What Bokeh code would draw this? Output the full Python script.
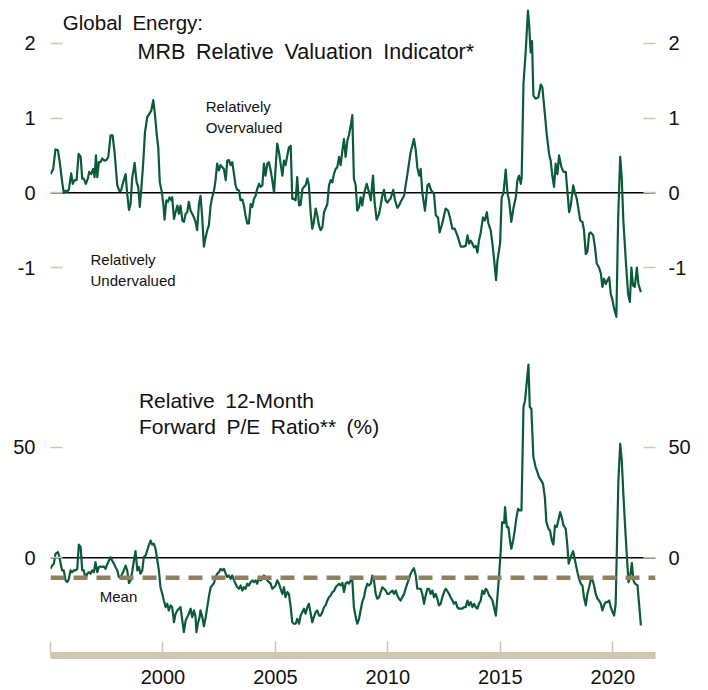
from bokeh.plotting import figure
from bokeh.models import Span, Label, LinearAxis, FixedTicker, Range1d
from bokeh.layouts import column
from bokeh.embed import file_html
from bokeh.resources import INLINE

# ---------------- data ----------------
years_mrb = [
    1995.00, 1995.12, 1995.22, 1995.33, 1995.42, 1995.52, 1995.59, 1995.67, 1995.74, 1995.82,
    1995.92, 1995.99, 1996.07, 1996.16, 1996.25, 1996.34, 1996.41, 1996.48, 1996.57, 1996.66,
    1996.72, 1996.81, 1996.90, 1996.96, 1997.02, 1997.08, 1997.15, 1997.22, 1997.30, 1997.40,
    1997.49, 1997.57, 1997.67, 1997.76, 1997.85, 1997.97, 1998.07, 1998.14, 1998.23, 1998.34,
    1998.41, 1998.49, 1998.56, 1998.63, 1998.74, 1998.83, 1998.90, 1998.97, 1999.05, 1999.12,
    1999.20, 1999.30, 1999.40, 1999.48, 1999.57, 1999.64, 1999.72, 1999.79, 1999.86, 1999.95,
    2000.03, 2000.07, 2000.15, 2000.22, 2000.29, 2000.37, 2000.41, 2000.49, 2000.56, 2000.64,
    2000.71, 2000.78, 2000.86, 2000.93, 2001.01, 2001.08, 2001.15, 2001.23, 2001.30, 2001.38,
    2001.45, 2001.52, 2001.60, 2001.67, 2001.75, 2001.82, 2001.90, 2001.97, 2002.04, 2002.12,
    2002.19, 2002.27, 2002.34, 2002.41, 2002.49, 2002.56, 2002.64, 2002.71, 2002.79, 2002.86,
    2002.93, 2003.01, 2003.08, 2003.16, 2003.23, 2003.30, 2003.38, 2003.45, 2003.53, 2003.60,
    2003.67, 2003.75, 2003.82, 2003.90, 2003.97, 2004.05, 2004.12, 2004.19, 2004.27, 2004.34,
    2004.42, 2004.49, 2004.56, 2004.64, 2004.71, 2004.79, 2004.86, 2004.94, 2005.01, 2005.08,
    2005.16, 2005.23, 2005.31, 2005.38, 2005.45, 2005.53, 2005.60, 2005.68, 2005.75, 2005.82,
    2005.90, 2005.97, 2006.05, 2006.12, 2006.20, 2006.27, 2006.34, 2006.42, 2006.49, 2006.57,
    2006.64, 2006.71, 2006.79, 2006.86, 2006.94, 2007.01, 2007.09, 2007.16, 2007.23, 2007.31,
    2007.38, 2007.46, 2007.53, 2007.60, 2007.68, 2007.75, 2007.83, 2007.90, 2007.98, 2008.05,
    2008.12, 2008.20, 2008.27, 2008.35, 2008.42, 2008.49, 2008.57, 2008.64, 2008.72, 2008.79,
    2008.86, 2008.94, 2009.06, 2009.16, 2009.24, 2009.34, 2009.41, 2009.50, 2009.61, 2009.68,
    2009.75, 2009.83, 2009.90, 2009.98, 2010.05, 2010.12, 2010.24, 2010.32, 2010.42, 2010.50,
    2010.57, 2010.72, 2010.87, 2011.01, 2011.16, 2011.24, 2011.31, 2011.39, 2011.46, 2011.53,
    2011.65, 2011.76, 2011.83, 2011.93, 2012.05, 2012.13, 2012.23, 2012.30, 2012.42, 2012.50,
    2012.57, 2012.68, 2012.76, 2012.87, 2012.97, 2013.09, 2013.16, 2013.24, 2013.36, 2013.46,
    2013.54, 2013.61, 2013.68, 2013.76, 2013.83, 2013.91, 2013.98, 2014.05, 2014.13, 2014.23,
    2014.31, 2014.40, 2014.47, 2014.57, 2014.65, 2014.72, 2014.81, 2014.87, 2014.99, 2015.06,
    2015.14, 2015.24, 2015.32, 2015.39, 2015.49, 2015.58, 2015.69, 2015.76, 2015.83, 2015.91,
    2015.95, 2016.03, 2016.13, 2016.23, 2016.29, 2016.35, 2016.41, 2016.47, 2016.57, 2016.69,
    2016.80, 2016.87, 2016.98, 2017.06, 2017.17, 2017.24, 2017.32, 2017.39, 2017.46, 2017.54,
    2017.61, 2017.72, 2017.81, 2017.91, 2017.98, 2018.06, 2018.13, 2018.24, 2018.31, 2018.40,
    2018.47, 2018.55, 2018.65, 2018.72, 2018.80, 2018.87, 2018.95, 2019.02, 2019.13, 2019.21,
    2019.29, 2019.39, 2019.47, 2019.54, 2019.61, 2019.69, 2019.76, 2019.84, 2019.91, 2019.99,
    2020.06, 2020.16, 2020.24, 2020.33, 2020.40, 2020.47, 2020.58, 2020.68, 2020.76, 2020.83,
    2020.90, 2020.98, 2021.07, 2021.14, 2021.25,
]
mrb_indicator = [
    0.25, 0.32, 0.58, 0.57, 0.39, 0.14, 0.00, 0.03, 0.01, 0.05,
    0.26, 0.12, 0.17, 0.17, 0.52, 0.48, 0.19, 0.19, 0.12, 0.19,
    0.28, 0.25, 0.32, 0.21, 0.50, 0.21, 0.41, 0.41, 0.46, 0.43,
    0.44, 0.48, 0.77, 0.77, 0.54, 0.10, 0.02, 0.03, 0.14, 0.25,
    -0.01, -0.23, -0.15, 0.19, 0.40, 0.14, 0.08, -0.19, 0.10, 0.39,
    0.81, 1.01, 1.06, 1.10, 1.24, 1.06, 0.79, 0.61, 0.14, 0.01,
    -0.19, -0.36, -0.10, -0.12, -0.06, -0.10, -0.06, -0.35, -0.26, -0.17,
    -0.28, -0.17, -0.37, -0.39, -0.28, -0.26, -0.12, -0.24, -0.28, -0.33,
    -0.39, -0.50, -0.15, -0.04, -0.35, -0.72, -0.59, -0.50, -0.44, -0.17,
    -0.06, 0.03, 0.17, 0.39, 0.30, 0.37, 0.34, 0.32, 0.17, 0.43,
    0.44, 0.37, 0.41, 0.25, 0.10, 0.04, 0.03, -0.10, -0.09, -0.17,
    -0.30, -0.41, -0.41, -0.15, -0.19, -0.08, -0.04, 0.05, 0.12, 0.08,
    0.10, 0.39, 0.23, 0.39, 0.41, 0.30, 0.17, 0.00, 0.34, 0.66,
    0.54, 0.39, 0.23, 0.43, 0.37, 0.50, 0.61, 0.63, -0.08, -0.08,
    -0.10, 0.21, -0.17, -0.16, 0.05, 0.08, 0.10, 0.19, 0.10, -0.28,
    -0.48, -0.39, -0.21, -0.30, -0.44, -0.50, -0.46, -0.26, -0.21, -0.15,
    0.10, 0.17, 0.14, 0.25, 0.32, 0.34, 0.48, 0.37, 0.57, 0.72,
    0.48, 0.70, 0.77, 0.90, 1.04, 0.19, 0.10, -0.24, -0.19, -0.06,
    -0.17, -0.01, 0.12, 0.01, -0.10, 0.23, -0.12, -0.36, -0.28, -0.17,
    -0.04, 0.04, -0.10, -0.13, -0.10, -0.08, 0.04, -0.10, -0.20, -0.17,
    -0.12, -0.04, 0.25, 0.54, 0.72, 0.57, 0.34, 0.23, 0.32, 0.01,
    -0.24, 0.10, 0.12, 0.03, -0.01, -0.30, -0.33, -0.53, -0.41, -0.30,
    -0.21, -0.24, -0.33, -0.48, -0.48, -0.57, -0.64, -0.72, -0.72, -0.71,
    -0.57, -0.68, -0.64, -0.68, -0.73, -0.71, -0.80, -0.64, -0.53, -0.33,
    -0.37, -0.26, -0.41, -0.50, -0.68, -0.88, -1.17, -0.91, -0.68, -0.06,
    -0.01, 0.31, -0.01, -0.10, -0.39, -0.21, -0.06, 0.17, 0.23, 0.12,
    0.21, 1.46, 1.90, 2.44, 2.21, 1.88, 2.03, 1.30, 1.26, 1.28,
    1.45, 1.41, 1.06, 0.79, 0.52, 0.43, 0.21, 0.08, 0.39, 0.25,
    0.50, 0.34, 0.28, 0.28, 0.03, -0.26, -0.17, 0.10, 0.01, -0.08,
    -0.21, -0.37, -0.39, -0.50, -0.82, -0.79, -0.55, -0.53, -0.57, -0.73,
    -0.95, -1.00, -1.08, -1.26, -1.15, -1.22, -1.17, -1.13, -1.35, -1.44,
    -1.55, -1.66, -0.33, 0.48, 0.19, -0.37, -0.91, -1.35, -1.46, -1.00,
    -1.24, -1.26, -1.00, -1.22, -1.33,
]

years_pe = [
    1995.00, 1995.07, 1995.15, 1995.22, 1995.33, 1995.40, 1995.45, 1995.52, 1995.59, 1995.67,
    1995.74, 1995.82, 1995.89, 1995.96, 1996.04, 1996.11, 1996.19, 1996.26, 1996.34, 1996.41,
    1996.48, 1996.56, 1996.63, 1996.71, 1996.78, 1996.85, 1996.93, 1997.00, 1997.08, 1997.15,
    1997.22, 1997.30, 1997.37, 1997.45, 1997.52, 1997.60, 1997.67, 1997.74, 1997.82, 1997.89,
    1997.97, 1998.04, 1998.11, 1998.19, 1998.26, 1998.34, 1998.41, 1998.49, 1998.56, 1998.63,
    1998.71, 1998.78, 1998.86, 1998.93, 1999.00, 1999.08, 1999.15, 1999.23, 1999.30, 1999.37,
    1999.45, 1999.52, 1999.60, 1999.67, 1999.75, 1999.82, 1999.89, 1999.97, 2000.04, 2000.12,
    2000.19, 2000.26, 2000.34, 2000.41, 2000.49, 2000.56, 2000.64, 2000.71, 2000.78, 2000.86,
    2000.93, 2001.01, 2001.08, 2001.15, 2001.23, 2001.30, 2001.38, 2001.45, 2001.49, 2001.55,
    2001.63, 2001.67, 2001.75, 2001.82, 2001.90, 2001.97, 2002.04, 2002.12, 2002.19, 2002.27,
    2002.34, 2002.41, 2002.49, 2002.56, 2002.64, 2002.71, 2002.79, 2002.86, 2002.93, 2003.01,
    2003.08, 2003.16, 2003.23, 2003.30, 2003.38, 2003.45, 2003.53, 2003.60, 2003.67, 2003.75,
    2003.82, 2003.90, 2003.97, 2004.05, 2004.12, 2004.19, 2004.27, 2004.34, 2004.42, 2004.49,
    2004.56, 2004.64, 2004.71, 2004.79, 2004.86, 2004.94, 2005.01, 2005.08, 2005.16, 2005.23,
    2005.31, 2005.38, 2005.45, 2005.53, 2005.60, 2005.68, 2005.75, 2005.82, 2005.90, 2005.97,
    2006.05, 2006.12, 2006.20, 2006.27, 2006.34, 2006.42, 2006.49, 2006.57, 2006.64, 2006.71,
    2006.79, 2006.86, 2006.94, 2007.01, 2007.09, 2007.16, 2007.23, 2007.31, 2007.38, 2007.46,
    2007.53, 2007.60, 2007.68, 2007.75, 2007.83, 2007.90, 2007.98, 2008.05, 2008.12, 2008.20,
    2008.27, 2008.35, 2008.42, 2008.49, 2008.57, 2008.64, 2008.72, 2008.76, 2008.86, 2008.94,
    2009.01, 2009.09, 2009.16, 2009.24, 2009.31, 2009.38, 2009.46, 2009.53, 2009.61, 2009.68,
    2009.75, 2009.83, 2009.90, 2009.98, 2010.05, 2010.12, 2010.20, 2010.27, 2010.35, 2010.42,
    2010.50, 2010.57, 2010.64, 2010.72, 2010.79, 2010.87, 2010.94, 2011.01, 2011.09, 2011.16,
    2011.24, 2011.31, 2011.39, 2011.46, 2011.53, 2011.61, 2011.68, 2011.76, 2011.83, 2011.90,
    2011.98, 2012.05, 2012.13, 2012.20, 2012.27, 2012.35, 2012.42, 2012.50, 2012.57, 2012.65,
    2012.72, 2012.79, 2012.87, 2012.94, 2013.02, 2013.09, 2013.16, 2013.24, 2013.31, 2013.39,
    2013.46, 2013.54, 2013.61, 2013.68, 2013.76, 2013.83, 2013.91, 2013.98, 2014.05, 2014.13,
    2014.20, 2014.28, 2014.35, 2014.42, 2014.50, 2014.57, 2014.65, 2014.72, 2014.80, 2014.87,
    2014.94, 2015.02, 2015.08, 2015.17, 2015.21, 2015.29, 2015.36, 2015.43, 2015.49, 2015.57,
    2015.64, 2015.72, 2015.79, 2015.86, 2015.94, 2016.03, 2016.10, 2016.17, 2016.25, 2016.31,
    2016.38, 2016.47, 2016.57, 2016.65, 2016.72, 2016.80, 2016.90, 2016.98, 2017.05, 2017.14,
    2017.21, 2017.29, 2017.36, 2017.43, 2017.51, 2017.58, 2017.66, 2017.73, 2017.81, 2017.91,
    2017.98, 2018.04, 2018.13, 2018.24, 2018.32, 2018.43, 2018.50, 2018.58, 2018.65, 2018.72,
    2018.80, 2018.87, 2018.95, 2019.02, 2019.10, 2019.17, 2019.24, 2019.32, 2019.39, 2019.47,
    2019.54, 2019.61, 2019.69, 2019.76, 2019.84, 2019.91, 2019.99, 2020.06, 2020.13, 2020.19,
    2020.25, 2020.33, 2020.40, 2020.47, 2020.55, 2020.62, 2020.70, 2020.77, 2020.85, 2020.92,
    2020.99, 2021.10, 2021.17, 2021.25,
]
rel_fwd_pe = [
    -5.0, -3.5, -2.7, 1.8, 2.6, 0.3, -2.7, -5.7, -5.7, -10.2,
    -11.0, -9.5, -5.7, -6.5, -5.7, -5.7, -5.0, 6.0, 4.8, -5.7,
    -5.7, -9.5, -7.2, -6.5, -7.2, -5.7, -6.5, -2.0, -6.5, -4.2,
    -3.9, -4.2, -3.9, -5.0, -3.0, -1.2, 0.3, -1.2, -2.7, -4.2,
    -5.7, -8.7, -9.0, -7.2, -5.7, -3.5, -5.7, -11.4, -10.2, -6.5,
    -1.2, 3.0, -5.7, -4.2, -7.2, -5.7, 0.3, 1.1, 3.3, 5.6,
    7.8, 6.0, 6.3, 4.1, -1.2, -5.7, -13.3, -16.3, -19.3, -22.3,
    -20.8, -23.8, -21.5, -22.3, -29.1, -25.3, -23.8, -23.0, -22.3, -28.3,
    -33.6, -28.3, -26.8, -25.3, -23.0, -26.8, -23.8, -26.8, -33.6, -29.8,
    -26.8, -23.8, -26.8, -31.0, -26.8, -22.3, -17.8, -13.3, -12.5, -11.4,
    -8.7, -7.2, -6.5, -5.0, -5.7, -5.0, -7.2, -8.7, -8.0, -9.5,
    -8.0, -10.2, -11.7, -13.3, -14.0, -12.5, -14.8, -13.3, -14.0, -11.7,
    -12.5, -11.0, -10.2, -11.0, -10.2, -11.7, -9.0, -10.2, -9.5, -8.0,
    -8.7, -10.2, -11.0, -11.7, -14.0, -13.3, -12.5, -10.2, -11.7, -14.0,
    -16.3, -13.3, -17.8, -15.5, -16.3, -22.3, -29.1, -29.8, -29.8, -27.6,
    -29.8, -26.1, -24.5, -23.0, -25.3, -22.3, -20.8, -25.3, -29.1, -26.8,
    -24.5, -23.8, -26.1, -26.1, -24.5, -22.3, -21.5, -19.3, -17.8, -17.0,
    -15.5, -15.1, -13.3, -12.5, -11.7, -12.5, -11.4, -15.5, -11.7, -11.0,
    -11.7, -10.2, -9.9, -22.3, -26.8, -29.8, -27.6, -25.3, -20.0, -17.8,
    -14.0, -11.7, -12.5, -11.7, -8.0, -10.2, -16.3, -18.5, -17.8, -15.5,
    -13.3, -14.0, -14.8, -16.3, -16.3, -15.5, -14.8, -16.3, -14.8, -17.0,
    -18.5, -19.3, -17.8, -16.3, -14.0, -11.4, -9.5, -7.2, -5.7, -4.7,
    -8.0, -14.0, -14.0, -14.0, -16.3, -20.8, -17.0, -14.0, -14.0, -16.3,
    -14.8, -17.8, -16.3, -18.5, -21.5, -20.8, -17.8, -15.5, -14.0, -15.1,
    -16.3, -17.8, -19.3, -20.8, -20.0, -22.3, -23.0, -23.0, -23.0, -22.3,
    -22.3, -19.3, -21.5, -20.0, -22.3, -20.8, -22.3, -23.0, -20.8, -19.3,
    -14.8, -16.3, -14.0, -14.8, -17.0, -17.8, -19.3, -22.3, -26.1, -17.8,
    -8.7, 3.3, 16.1, 15.7, 22.9, 13.9, 13.9, 7.8, 4.1, 7.8,
    12.3, 18.4, 22.1, 21.4, 21.4, 68.1, 71.1, 78.6, 87.3, 68.1,
    67.3, 45.5, 41.0, 38.7, 36.4, 35.2, 33.4, 27.4, 16.1, 13.1,
    12.3, 7.8, 6.0, 14.6, 13.9, 16.9, 20.6, 18.4, 14.6, 13.1,
    5.6, -2.7, 0.3, 3.0, -1.2, -6.5, -9.5, -11.7, -12.5, -17.8,
    -21.5, -16.3, -13.3, -9.9, -10.2, -12.5, -16.3, -18.5, -19.3, -20.8,
    -23.8, -21.5, -20.0, -20.0, -19.3, -22.3, -24.5, -26.1, -20.8, 7.8,
    34.9, 51.5, 44.0, 28.9, 13.9, 1.8, -11.0, -8.7, -2.4, -10.2,
    -11.7, -12.5, -20.8, -30.6,
]
mean_pe = -9.0

x_ticks = [1995, 2000, 2005, 2010, 2015, 2020]
mrb_ticks = [-1, 0, 1, 2]
pe_ticks = [0, 50]

assert len(years_mrb) == len(mrb_indicator)
assert len(years_pe) == len(rel_fwd_pe)

# ---------------- style ----------------
GREEN = "#0B5B38"
BEIGE = "#CFC7B3"
MEAN_COL = "#8D8063"
TXT = "#111111"
FONT = "Liberation Sans"
SP = "\u2002"  # wide word gap as in the original typesetting

x_range = Range1d(1995.0, 2021.9)


def style_y(ax, ticks, standoff):
    ax.ticker = FixedTicker(ticks=ticks)
    ax.major_label_overrides = {t: str(t) for t in ticks}
    ax.axis_line_color = None
    ax.major_tick_in = 12
    ax.major_tick_out = 0
    ax.major_tick_line_color = BEIGE
    ax.major_tick_line_width = 1.5
    ax.minor_tick_line_color = None
    ax.major_label_text_font = FONT
    ax.major_label_text_font_size = "20px"
    ax.major_label_text_color = TXT
    ax.major_label_standoff = standoff


def add_label(p, x, y, text, size, lift):
    p.add_layout(Label(x=x, y=y, y_offset=lift, text=text, text_font=FONT, text_font_size=size,
                       text_color=TXT, text_baseline="alphabetic", text_align="left"))


# ---------------- top panel ----------------
p1 = figure(width=708, height=330, x_range=x_range, y_range=Range1d(-1.843, 2.467),
            output_backend="svg", toolbar_location=None, x_axis_location=None,
            min_border_left=50, min_border_right=53, min_border_top=8, min_border_bottom=0,
            outline_line_color=None, background_fill_color="white", border_fill_color="white")
p1.grid.visible = False
style_y(p1.yaxis[0], mrb_ticks, 15)
r1 = LinearAxis()
p1.add_layout(r1, "right")
style_y(r1, mrb_ticks, 13)

p1.add_layout(Span(location=0, dimension="width", line_color="black", line_width=1.5, level="underlay"))
p1.line(years_mrb, mrb_indicator, line_color=GREEN, line_width=2.2, line_join="round")

add_label(p1, 1995.55, 2.186, "Global" + SP + "Energy:", "20.5px", 7)
add_label(p1, 1998.87, 1.794, SP.join(["MRB", "Relative", "Valuation", "Indicator*"]), "21.5px", 7)
add_label(p1, 2001.90, 1.079, "Relatively", "15px", 6)
add_label(p1, 2001.90, 0.798, "Overvalued", "15px", 6)
add_label(p1, 1996.78, -0.973, "Relatively", "15px", 6)
add_label(p1, 1996.78, -1.250, "Undervalued", "15px", 6)

# ---------------- bottom panel ----------------
p2 = figure(width=708, height=360, x_range=x_range, y_range=Range1d(-44.15, 102.7),
            output_backend="svg", toolbar_location=None,
            min_border_left=50, min_border_right=53, min_border_top=0, min_border_bottom=35,
            outline_line_color=None, background_fill_color="white", border_fill_color="white")
p2.grid.visible = False
style_y(p2.yaxis[0], pe_ticks, 15)
r2 = LinearAxis()
p2.add_layout(r2, "right")
style_y(r2, pe_ticks, 13)

xa = p2.xaxis[0]
xa.ticker = FixedTicker(ticks=x_ticks)
xa.major_label_overrides = {1995: ""}
xa.axis_line_color = BEIGE
xa.axis_line_width = 7
xa.major_tick_in = 14
xa.major_tick_out = 0
xa.major_tick_line_color = BEIGE
xa.major_tick_line_width = 1.5
xa.minor_tick_line_color = None
xa.major_label_text_font = FONT
xa.major_label_text_font_size = "20px"
xa.major_label_text_color = TXT
xa.major_label_standoff = 14

p2.add_layout(Span(location=0, dimension="width", line_color="black", line_width=1.5, level="underlay"))
p2.line(years_pe, rel_fwd_pe, line_color=GREEN, line_width=2.2, line_join="round")
p2.add_layout(Span(location=mean_pe, dimension="width", line_color=MEAN_COL, line_width=4.5,
                   line_dash="14 9"))

add_label(p2, 1998.93, 67.8, "Relative" + SP + "12-Month", "21px", 7)
add_label(p2, 1998.93, 56.0, SP.join(["Forward", "P/E", "Ratio**", "(%)"]), "21px", 7)
add_label(p2, 1997.19, -20.1, "Mean", "15px", 6)

layout = column(p1, p2)
open("out.html", "w").write(file_html(layout, INLINE))
